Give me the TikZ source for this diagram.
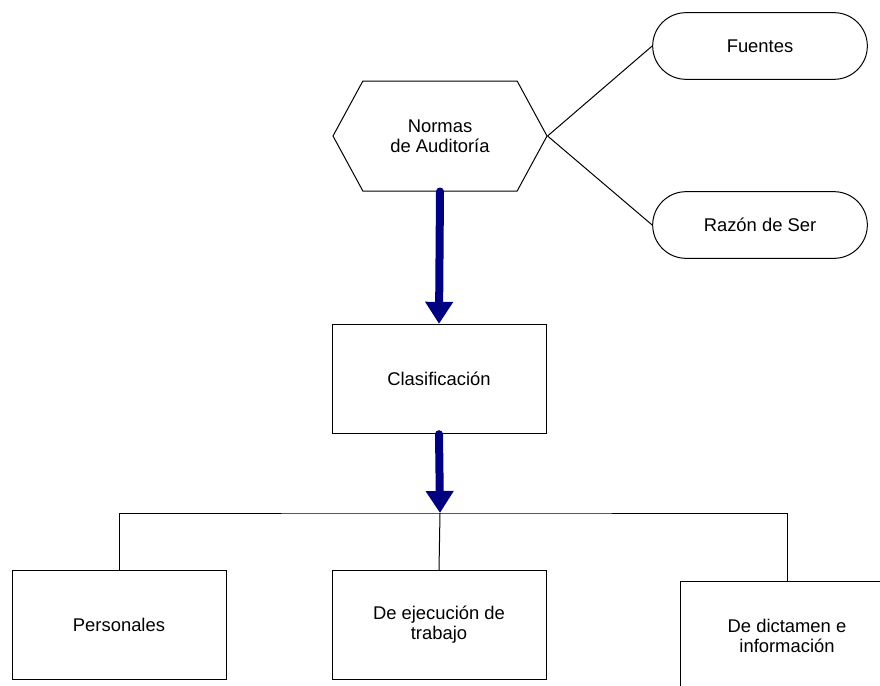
\documentclass[tikz,border=0pt]{standalone}
\usepackage{fontspec}
\setmainfont{Liberation Sans}
\usetikzlibrary{shapes.geometric,shapes.misc,shapes.symbols,arrows.meta}
\definecolor{arrowblue}{RGB}{0,0,128}
\begin{document}
\begin{tikzpicture}[x=0.75pt, y=-0.75pt, line width=0.75pt,
  every node/.style={font=\fontsize{13.8}{15}\selectfont, align=center, inner sep=0pt},
  main box/.style={rectangle,draw,minimum width=160.5pt,minimum height=82pt},
  norm node/.style={signal,draw,signal to=west and east,signal pointer angle=123,minimum width=160.5pt,minimum height=82.5pt},
  side node/.style={rounded rectangle,draw,minimum width=161pt,minimum height=50pt},
  big arrow/.style={draw=arrowblue,line width=6pt,line cap=round,-{Triangle[length=16.5pt,width=20pt]}}]
\useasboundingbox (0,0) rectangle (880,685);
\clip (0,0) rectangle (880,685);
\begin{scope}
\node[norm node] (norm) at (440,136) {Normas\\de Auditoría};
\node[side node] (fuen) at (760,46) {Fuentes};
\node[side node] (razon) at (760,225) {Razón de Ser};
\node[main box] (clas) at (439,379) {Clasificación};
\coordinate (bar) at (440,513);
\node[main box] (pers) at (119,625) {Personales};
\node[main box] (ejec) at (439,625) {De ejecución de\\trabajo};
\node[main box] (dict) at (787,636) {De dictamen e\\información};
\end{scope}
\begin{scope}
\draw (norm.east) -- (fuen.west);
\draw (norm.east) -- (razon.west);
\draw[big arrow] (norm.south) -- (clas.north);
\draw[big arrow] (clas.south) -- (bar);
\draw (pers.north) |- (bar) -| (dict.north);
\draw (bar) -- (ejec.north);
\end{scope}
\end{tikzpicture}
\end{document}
